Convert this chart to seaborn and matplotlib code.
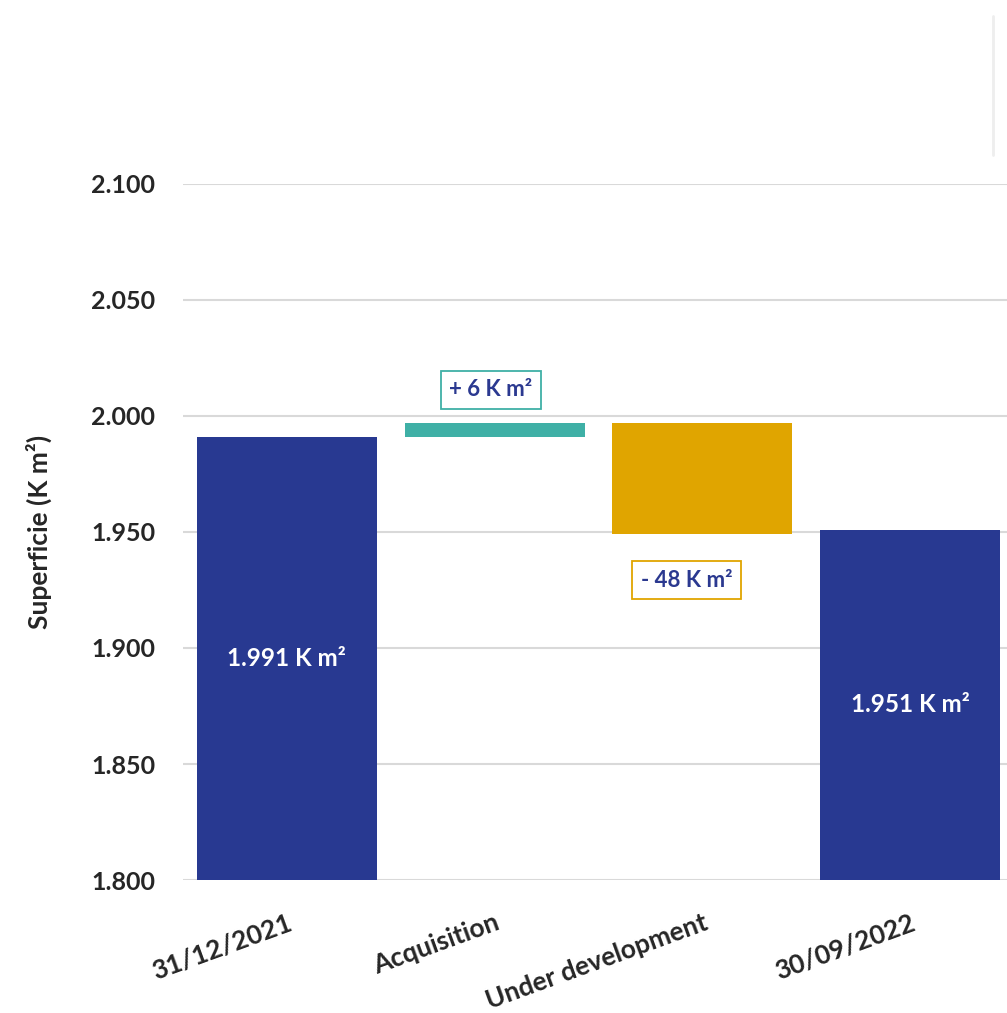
import numpy as np
import pandas as pd
import seaborn as sns
import matplotlib
matplotlib.use("Agg")
import matplotlib.pyplot as plt
from matplotlib.lines import Line2D
from matplotlib.ticker import FuncFormatter

# ---- data (K m²) ----
categories = ["31/12/2021", "Acquisition", "Under development", "30/09/2022"]
start_value = 1991
deltas = [6, -48]
end_value = 1951
colors = ["#283991", "#3FB0A6", "#E0A500", "#283991"]
inside_labels = ["1.991 K m²", None, None, "1.951 K m²"]
box_labels = [None, "+ 6 K m²", "- 48 K m²", None]
y_ticks = [1800, 1850, 1900, 1950, 2000, 2050, 2100]

# waterfall geometry from data
bottoms = [0]
heights = [start_value]
running = start_value
for d in deltas:
    new = running + d
    bottoms.append(min(running, new))
    heights.append(abs(d))
    running = new
bottoms.append(0)
heights.append(end_value)

df = pd.DataFrame({"category": categories, "height": heights, "bottom": bottoms})

sns.set_theme(style="white")
plt.rcParams["font.family"] = ["Lato", "DejaVu Sans"]
plt.rcParams["font.weight"] = "bold"

fig = plt.figure(figsize=(10.07, 10.13), dpi=100)
ax = fig.add_axes([183 / 1007, 1 - 880 / 1013, (1014 - 183) / 1007, (880 - 184) / 1013])

sns.barplot(data=df, x="category", y="height", bottom=df["bottom"].to_numpy(),
            order=categories, width=0.866, errorbar=None, ax=ax, zorder=3,
            color=colors[0], saturation=1)
for patch, c in zip(ax.patches, colors):
    patch.set_facecolor(c)
    patch.set_edgecolor("none")

ax.set_ylim(1800, 2100)
ax.set_xlim(-0.5, 3.5)
ax.set_yticks(y_ticks)
ax.yaxis.set_major_formatter(FuncFormatter(lambda v, p: f"{int(round(v)):,}".replace(",", ".")))
ax.grid(axis="y", color="#D9D9D9", linewidth=1.5, zorder=0)
ax.set_axisbelow(True)
for s in ax.spines.values():
    s.set_visible(False)
ax.tick_params(axis="both", length=0)
ax.tick_params(axis="y", pad=20, labelsize=18, labelcolor="#262626")
ax.tick_params(axis="x", pad=22, labelsize=19, labelcolor="#262626")
for lbl in ax.get_xticklabels():
    lbl.set_rotation(20)
    lbl.set_ha("right")
    lbl.set_rotation_mode("anchor")
    lbl.set_fontweight("bold")
for lbl in ax.get_yticklabels():
    lbl.set_fontweight("bold")
ax.set_xlabel("")
ax.set_ylabel("Superficie (K m²)", fontsize=19, fontweight="bold", color="#262626", labelpad=28)

# labels inside total bars
for i, txt in enumerate(inside_labels):
    if txt:
        top = bottoms[i] + heights[i]
        ax.text(i, (1800 + top) / 2, txt, ha="center", va="center", color="white",
                fontsize=17.5, fontweight="bold", zorder=5)

# boxed labels for deltas
for i, txt in enumerate(box_labels):
    if txt:
        if deltas[i - 1] >= 0:
            y = bottoms[i] + heights[i]
            off = (-4, 33)
        else:
            y = bottoms[i]
            off = (-16, -46)
        ax.annotate(txt, xy=(i, y), xytext=off, textcoords="offset pixels",
                    ha="center", va="center", color="#2B3990", fontsize=16, fontweight="bold",
                    bbox=dict(boxstyle="square,pad=0.38", facecolor="white",
                              edgecolor=colors[i], linewidth=1.3), zorder=6)

# faint stray vertical line at top right
fig.add_artist(Line2D([993 / 1007, 993 / 1007], [1 - 16 / 1013, 1 - 155 / 1013],
                      transform=fig.transFigure, color="#EEEEEE", linewidth=2))

fig.savefig("out.png", dpi=100)
